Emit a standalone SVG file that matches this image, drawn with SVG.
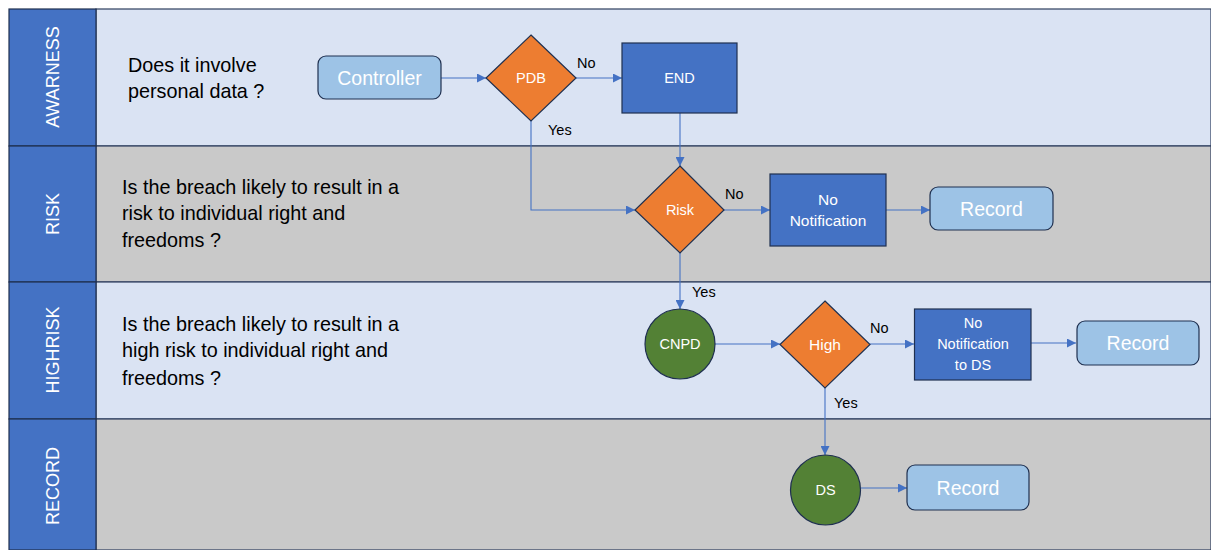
<svg xmlns="http://www.w3.org/2000/svg" width="1211" height="550" viewBox="0 0 1211 550">
<style>
.lane-a{fill:#DAE3F3;stroke:#2F3F5F;stroke-width:1.2}
.lane-b{fill:#C9C9C9;stroke:#2F3F5F;stroke-width:1.2}
.hdr{fill:#4472C4;stroke:#1F2F4F;stroke-width:1.2}
.hdrt{font-family:"Liberation Sans",Arial,sans-serif;font-size:18px;fill:#FFFFFF;text-anchor:middle}
.q{font-family:"Liberation Sans",Arial,sans-serif;font-size:19.8px;fill:#000000}
.term{fill:#9DC3E6;stroke:#1F3050;stroke-width:1.2}
.proc{fill:#4472C4;stroke:#1F3050;stroke-width:1.2}
.dec{fill:#ED7D31;stroke:#1F3050;stroke-width:1.2}
.circ{fill:#538135;stroke:#1F3050;stroke-width:1.2}
.tl{font-family:"Liberation Sans",Arial,sans-serif;font-size:19.5px;fill:#FFFFFF;text-anchor:middle}
.ts{font-family:"Liberation Sans",Arial,sans-serif;font-size:14.5px;fill:#FFFFFF;text-anchor:middle}
.tp{font-family:"Liberation Sans",Arial,sans-serif;font-size:15.5px;fill:#FFFFFF;text-anchor:middle}
.lbl{font-family:"Liberation Sans",Arial,sans-serif;font-size:14.5px;fill:#000000}
.conn{fill:none;stroke:#4472C4;stroke-width:1.1}
</style>
<defs>
<marker id="arr" viewBox="0 0 10 10" refX="10" refY="5" markerWidth="9" markerHeight="9" markerUnits="userSpaceOnUse" orient="auto">
<path d="M0,0 L10,5 L0,10 z" fill="#4472C4"/>
</marker>
</defs>
<g id="lanes">
<rect class="lane-a" x="96" y="9" width="1115" height="137"/>
<rect class="lane-b" x="96" y="146" width="1115" height="136"/>
<rect class="lane-a" x="96" y="282" width="1115" height="137"/>
<rect class="lane-b" x="96" y="419" width="1115" height="131"/>
<rect class="hdr" x="9" y="9" width="87" height="137"/>
<rect class="hdr" x="9" y="146" width="87" height="136"/>
<rect class="hdr" x="9" y="282" width="87" height="137"/>
<rect class="hdr" x="9" y="419" width="87" height="131"/>
<text class="hdrt" transform="translate(59,77) rotate(-90)">AWARNESS</text>
<text class="hdrt" transform="translate(59,214) rotate(-90)">RISK</text>
<text class="hdrt" transform="translate(59,350) rotate(-90)">HIGHRISK</text>
<text class="hdrt" transform="translate(59,486) rotate(-90)">RECORD</text>
<text class="q" x="128" y="72">Does it involve</text>
<text class="q" x="128" y="98">personal data ?</text>
<text class="q" x="122" y="194">Is the breach likely to result in a</text>
<text class="q" x="122" y="220">risk to individual right and</text>
<text class="q" x="122" y="247">freedoms ?</text>
<text class="q" x="122" y="331">Is the breach likely to result in a</text>
<text class="q" x="122" y="357">high risk to individual right and</text>
<text class="q" x="122" y="385">freedoms ?</text>
</g>
<g id="connectors">
<path class="conn" d="M441,78 L486,78" marker-end="url(#arr)"/>
<path class="conn" d="M576,78 L622,78" marker-end="url(#arr)"/>
<path class="conn" d="M680,113 L680,166" marker-end="url(#arr)"/>
<path class="conn" d="M531,121 L531,210 L635,210" marker-end="url(#arr)"/>
<path class="conn" d="M724,210 L770,210" marker-end="url(#arr)"/>
<path class="conn" d="M886,210 L930,210" marker-end="url(#arr)"/>
<path class="conn" d="M680,253 L680,309" marker-end="url(#arr)"/>
<path class="conn" d="M715,344 L780,344" marker-end="url(#arr)"/>
<path class="conn" d="M870,344 L914,344" marker-end="url(#arr)"/>
<path class="conn" d="M1031,343 L1076,343" marker-end="url(#arr)"/>
<path class="conn" d="M825,388 L825,455" marker-end="url(#arr)"/>
<path class="conn" d="M861,488 L907,488" marker-end="url(#arr)"/>
<text class="lbl" x="577" y="68">No</text>
<text class="lbl" x="548" y="135">Yes</text>
<text class="lbl" x="725" y="199">No</text>
<text class="lbl" x="692" y="297">Yes</text>
<text class="lbl" x="870" y="333">No</text>
<text class="lbl" x="834" y="408">Yes</text>
</g>
<g id="controller">
<rect class="term" x="318" y="56" width="123" height="43" rx="8"/>
<text class="tl" x="379.5" y="84.5">Controller</text>
</g>
<g id="pdb">
<polygon class="dec" points="531,35 576,78 531,121 486,78"/>
<text class="ts" x="531" y="83">PDB</text>
</g>
<g id="end">
<rect class="proc" x="622" y="43" width="115" height="70"/>
<text class="ts" x="679.5" y="83">END</text>
</g>
<g id="risk">
<polygon class="dec" points="680,166 724,210 680,253 635,210"/>
<text class="ts" x="680" y="215">Risk</text>
</g>
<g id="no-notification">
<rect class="proc" x="770" y="174" width="116" height="72"/>
<text class="tp" x="828" y="205">No</text>
<text class="tp" x="828" y="226">Notification</text>
</g>
<g id="record1">
<rect class="term" x="930" y="187" width="123" height="43" rx="8"/>
<text class="tl" x="991.5" y="215.5">Record</text>
</g>
<g id="cnpd">
<circle class="circ" cx="680" cy="344" r="35"/>
<text class="ts" x="680" y="349">CNPD</text>
</g>
<g id="high">
<polygon class="dec" points="825,301 870,344.5 825,388 780,344.5"/>
<text class="tp" x="825" y="350">High</text>
</g>
<g id="no-notification-ds">
<rect class="proc" x="914.5" y="309" width="116.5" height="71"/>
<text class="ts" x="973" y="328">No</text>
<text class="ts" x="973" y="349">Notification</text>
<text class="ts" x="973" y="370">to DS</text>
</g>
<g id="record2">
<rect class="term" x="1077" y="321" width="122" height="44" rx="8"/>
<text class="tl" x="1138" y="350">Record</text>
</g>
<g id="ds">
<circle class="circ" cx="825.5" cy="490" r="35"/>
<text class="ts" x="825.5" y="495">DS</text>
</g>
<g id="record3">
<rect class="term" x="907" y="465" width="122" height="45" rx="8"/>
<text class="tl" x="968" y="494.5">Record</text>
</g>
</svg>
